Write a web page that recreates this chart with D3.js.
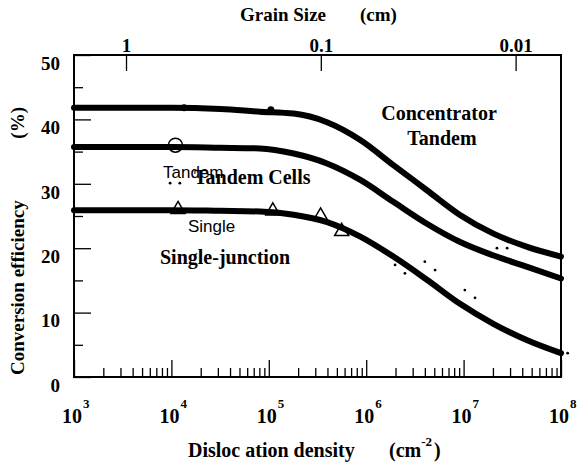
<!DOCTYPE html>
<html>
<head>
<meta charset="utf-8">
<script src="https://cdn.jsdelivr.net/npm/d3@7"></script>
<style>
  body { margin: 0; background: white; }
  svg text { font-family: "Liberation Serif", "Times New Roman", serif; font-weight: bold; fill: black; }
  .sans { font-family: "Liberation Sans", Arial, sans-serif; font-weight: normal; }
</style>
</head>
<body>
<svg id="chart" width="578" height="470"></svg>
<script>
// dislocation density (cm^-2) sample points, shared by the three curves
var density = [1e3, 3.2e3, 1e4, 3.2e4, 8.1e4, 1.8e5, 3.9e5, 8.7e5, 1.9e6, 4.2e6, 9.1e6, 2.0e7, 4.5e7, 1e8];
var concTandem = [41.8, 41.8, 41.8, 41.6, 41.2, 40.9, 39.6, 36.8, 32.9, 29.0, 25.2, 22.3, 20.2, 18.7];
var tandemCells = [35.7, 35.7, 35.7, 35.6, 35.5, 34.7, 33.2, 30.6, 27.2, 23.8, 21.0, 18.9, 17.1, 15.3];
var singleJunction = [25.9, 25.9, 25.9, 25.8, 25.7, 25.2, 24.1, 21.8, 18.7, 15.1, 11.4, 8.3, 5.7, 3.7];

// measured points
var dotDensity = [1.35e4, 1.05e5];
var dotEff = [41.8, 41.5];
var circleDensity = [1.1e4];
var circleEff = [36.0];
var triDensity = [1.17e4, 1.1e5, 3.4e5, 5.6e5];
var triEff = [26.0, 25.8, 25.0, 22.6];

// scattered dots of the dotted line
var dotLineDensity = [9.7e3, 1.22e4, 1.98e6, 2.5e6, 4.0e6, 5.1e6, 1.03e7, 1.31e7, 2.2e7, 2.8e7, 1.17e8];
var dotLineEff = [30.1, 30.1, 17.4, 16.1, 17.9, 16.6, 13.5, 12.3, 20.0, 20.0, 3.7];

var yTicks = [0, 10, 20, 30, 40, 50];
var yMinor = [5, 15, 25, 35, 45];
var xTicks = [1e3, 1e4, 1e5, 1e6, 1e7, 1e8];
var xExp = ["3", "4", "5", "6", "7", "8"];
var grainTicks = [1, 0.1, 0.01];
var grainLabels = ["1", "0.1", "0.01"];

var svg = d3.select("#chart");
var pL = 74, pR = 561, pT = 55, pB = 377;

var x = d3.scaleLog().domain([1e3, 1e8]).range([pL, pR]);
var y = d3.scaleLinear().domain([0, 50]).range([pB, pT]);
// grain size ~ sqrt(3420 / density)
var xg = d3.scaleLog().domain([Math.sqrt(3420 / 1e3), Math.sqrt(3420 / 1e8)]).range([pL, pR]);

// minor ticks on the density axis
var xMinor = [];
for (var e = 3; e < 8; e++) {
    for (var m = 2; m <= 9; m++) xMinor.push(m * Math.pow(10, e));
}

// bottom axis, ticks pointing inward
svg.append("g")
    .attr("transform", "translate(0," + pB + ")")
    .call(d3.axisBottom(x).tickValues(xMinor).tickSize(-9).tickFormat(""))
    .call(g => g.select(".domain").remove());
svg.append("g")
    .attr("transform", "translate(0," + pB + ")")
    .call(d3.axisBottom(x).tickValues(xTicks).tickSize(-17).tickFormat(""))
    .call(g => g.select(".domain").remove());

// left axis
svg.append("g")
    .attr("transform", "translate(" + pL + ",0)")
    .call(d3.axisLeft(y).tickValues(yMinor).tickSize(-9).tickFormat(""))
    .call(g => g.select(".domain").remove());
var yAxis = svg.append("g")
    .attr("transform", "translate(" + pL + ",0)")
    .call(d3.axisLeft(y).tickValues(yTicks).tickSize(-17).tickPadding(14))
    .call(g => g.select(".domain").remove());
yAxis.selectAll("text")
    .attr("dy", "0.75em")
    .style("font-size", "19px")
    .style("font-family", "Liberation Serif")
    .style("font-weight", "bold");

// top axis (grain size)
var topAxis = svg.append("g")
    .attr("transform", "translate(0," + pT + ")")
    .call(d3.axisTop(xg).tickValues(grainTicks).tickSize(-16).tickPadding(3)
        .tickFormat((d, i) => grainLabels[i]))
    .call(g => g.select(".domain").remove());
topAxis.selectAll("text")
    .style("font-size", "19px")
    .style("font-family", "Liberation Serif")
    .style("font-weight", "bold");

svg.selectAll(".tick line").attr("stroke", "black").attr("stroke-width", 1.3);

// frame
svg.append("rect")
    .attr("x", pL).attr("y", pT)
    .attr("width", pR - pL).attr("height", pB - pT)
    .attr("fill", "none").attr("stroke", "black").attr("stroke-width", 2);

// density tick labels with superscripts
svg.append("g").selectAll("text")
    .data(xTicks)
    .enter()
    .append("text")
    .attr("x", d => x(d) - 2)
    .attr("y", 423)
    .attr("text-anchor", "middle")
    .style("font-size", "20px")
    .text("10");
svg.append("g").selectAll("text")
    .data(xTicks)
    .enter()
    .append("text")
    .attr("x", d => x(d) + 9)
    .attr("y", 408)
    .style("font-size", "13px")
    .text((d, i) => xExp[i]);

// curves
var line = d3.line()
    .x(d => x(d[0]))
    .y(d => y(d[1]))
    .curve(d3.curveMonotoneX);

[concTandem, tandemCells, singleJunction].forEach(function (series) {
    svg.append("path")
        .datum(density.map((d, i) => [d, series[i]]))
        .attr("d", line)
        .attr("fill", "none")
        .attr("stroke", "black")
        .attr("stroke-width", 6)
        .attr("stroke-linecap", "round");
});

// dotted line pieces
svg.append("g").selectAll("circle")
    .data(dotLineDensity)
    .enter()
    .append("circle")
    .attr("cx", d => x(d))
    .attr("cy", (d, i) => y(dotLineEff[i]))
    .attr("r", 1.4)
    .attr("fill", "black");

// markers
svg.append("g").selectAll("circle")
    .data(dotDensity)
    .enter()
    .append("circle")
    .attr("cx", d => x(d))
    .attr("cy", (d, i) => y(dotEff[i]))
    .attr("r", 3.5)
    .attr("fill", "black");

svg.append("g").selectAll("circle")
    .data(circleDensity)
    .enter()
    .append("circle")
    .attr("cx", d => x(d))
    .attr("cy", (d, i) => y(circleEff[i]))
    .attr("r", 7)
    .attr("fill", "none")
    .attr("stroke", "black")
    .attr("stroke-width", 1.5);

svg.append("g").selectAll("path")
    .data(triDensity)
    .enter()
    .append("path")
    .attr("transform", (d, i) => "translate(" + x(d) + "," + y(triEff[i]) + ")")
    .attr("d", d3.symbol(d3.symbolTriangle, 85))
    .attr("fill", "none")
    .attr("stroke", "black")
    .attr("stroke-width", 1.5);

// axis titles
svg.append("text")
    .attr("x", 240).attr("y", 21)
    .style("font-size", "19px")
    .text("Grain Size");
svg.append("text")
    .attr("x", 360).attr("y", 21)
    .style("font-size", "19px")
    .text("(cm)");

svg.append("text")
    .attr("x", 188).attr("y", 457)
    .style("font-size", "20px")
    .text("Disloc ation density");
var unit = svg.append("text")
    .attr("x", 389).attr("y", 457)
    .style("font-size", "20px");
unit.append("tspan").text("(cm");
unit.append("tspan").attr("dy", -11).style("font-size", "13px").text("-2");
unit.append("tspan").attr("dy", 11).attr("dx", 2).text(")");

svg.append("text")
    .attr("transform", "translate(24,375) rotate(-90)")
    .style("font-size", "19px")
    .text("Conversion efficiency");
svg.append("text")
    .attr("transform", "translate(24,107) rotate(-90)")
    .attr("text-anchor", "end")
    .style("font-size", "19px")
    .text("(%)");

// curve labels
svg.append("text").attr("x", 439).attr("y", 120).attr("text-anchor", "middle")
    .style("font-size", "20px").text("Concentrator");
svg.append("text").attr("x", 442).attr("y", 145).attr("text-anchor", "middle")
    .style("font-size", "20px").text("Tandem");
svg.append("text").attr("x", 194).attr("y", 184)
    .style("font-size", "20px").text("Tandem Cells");
svg.append("text").attr("x", 160).attr("y", 264)
    .style("font-size", "20px").text("Single-junction");
svg.append("text").attr("class", "sans").attr("x", 163).attr("y", 178)
    .style("font-size", "17px").text("Tandem");
svg.append("text").attr("class", "sans").attr("x", 188).attr("y", 232)
    .style("font-size", "17px").text("Single");
</script>
</body>
</html>
